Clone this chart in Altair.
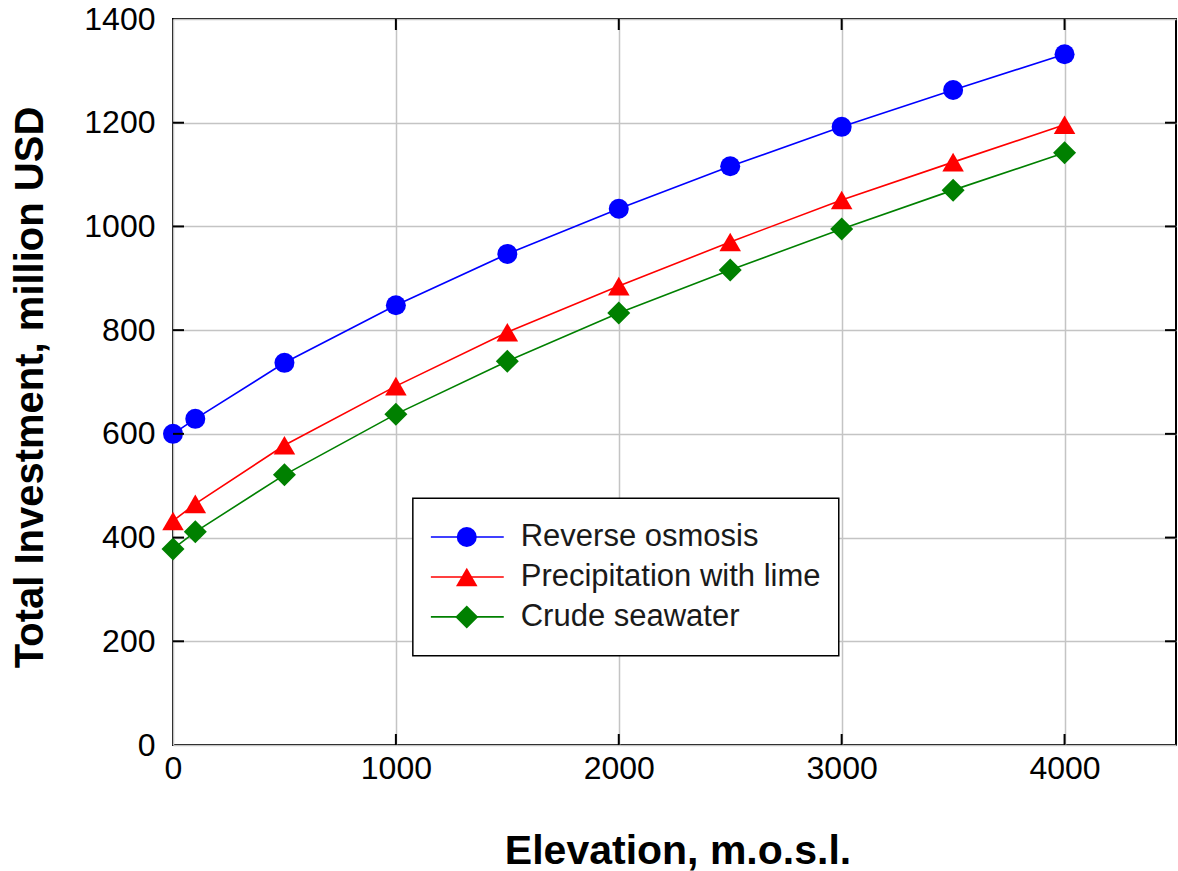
import altair as alt
import pandas as pd

elevation = [0, 100, 500, 1000, 1500, 2000, 2500, 3000, 3500, 4000]
reverse_osmosis = [600, 629, 737, 848, 947, 1034, 1116, 1192, 1263, 1332]
precip_lime = [432, 465, 578, 692, 796, 885, 970, 1051, 1124, 1196]
crude_seawater = [378, 411, 521, 638, 740, 833, 916, 995, 1070, 1142]

series_names = ["Reverse osmosis", "Precipitation with lime", "Crude seawater"]
series_colors = ["#0000ff", "#ff0000", "#008000"]
series_shapes = ["circle", "triangle-up", "diamond"]
series_sizes = [400, 529, 600]

x_ticks = [0, 1000, 2000, 3000, 4000]
y_ticks = [0, 200, 400, 600, 800, 1000, 1200, 1400]

rows = []
for name, vals in zip(series_names, [reverse_osmosis, precip_lime, crude_seawater]):
    for e, v in zip(elevation, vals):
        rows.append({"series": name, "elev": e, "inv": v})
df = pd.DataFrame(rows)

W, H = 1003, 726
FONT = "Liberation Sans"

xs = alt.Scale(domain=[0, 4500], nice=False)
ys = alt.Scale(domain=[0, 1400], nice=False)

xax = alt.Axis(values=x_ticks, format="d", title="Elevation, m.o.s.l.", labelFontSize=32, labelFont=FONT,
               labelColor="black", labelPadding=8, labelFlush=False, tickSize=0, domain=False,
               gridColor="#c4c4c4", gridWidth=1.5, titleFont=FONT, titleFontSize=41,
               titleFontWeight="bold", titleColor="black", titleX=W / 2 + 3, titleY=106,
               titleBaseline="middle", titleAlign="center")
yax = alt.Axis(values=y_ticks, format="d", title="Total Investment, million USD", labelFontSize=32, labelFont=FONT,
               labelColor="black", labelPadding=18, labelFlush=False, tickSize=0, domain=False,
               gridColor="#c4c4c4", gridWidth=1.5, titleFont=FONT, titleFontSize=40,
               titleFontWeight="bold", titleColor="black", titleX=-143, titleY=H / 2 + 5,
               titleAngle=270, titleBaseline="middle", titleAlign="center")

color = alt.Color("series:N", scale=alt.Scale(domain=series_names, range=series_colors), legend=None)
shape = alt.Shape("series:N", scale=alt.Scale(domain=series_names, range=series_shapes), legend=None)
size = alt.Size("series:N", scale=alt.Scale(domain=series_names, range=series_sizes), legend=None)

base = alt.Chart(df)
lines = base.mark_line(strokeWidth=1.6).encode(
    x=alt.X("elev:Q", scale=xs, axis=xax),
    y=alt.Y("inv:Q", scale=ys, axis=yax),
    color=color,
)
points = base.mark_point(filled=True, opacity=1, strokeWidth=0).encode(
    x=alt.X("elev:Q", scale=xs), y=alt.Y("inv:Q", scale=ys), color=color, shape=shape, size=size,
)

# inner tick marks on all four sides
xt = pd.DataFrame({"v": [1000, 2000, 3000, 4000]})
yt = pd.DataFrame({"v": [200, 400, 600, 800, 1000, 1200]})
tick_style = dict(color="black", strokeWidth=2)
t_bottom = alt.Chart(xt).mark_rule(**tick_style).encode(x=alt.X("v:Q", scale=xs), y=alt.value(H), y2=alt.value(H - 11))
t_top = alt.Chart(xt).mark_rule(**tick_style).encode(x=alt.X("v:Q", scale=xs), y=alt.value(0), y2=alt.value(11))
t_left = alt.Chart(yt).mark_rule(**tick_style).encode(y=alt.Y("v:Q", scale=ys), x=alt.value(0), x2=alt.value(11))
t_right = alt.Chart(yt).mark_rule(**tick_style).encode(y=alt.Y("v:Q", scale=ys), x=alt.value(W), x2=alt.value(W - 11))

# custom legend (in data coordinates)
leg_box = pd.DataFrame({"x1": [1076], "x2": [2987], "y1": [172], "y2": [476]})
leg_rows = pd.DataFrame({
    "series": series_names,
    "lx1": [1157] * 3, "lx2": [1484] * 3, "mx": [1318] * 3, "tx": [1560] * 3,
    "ly": [401, 324, 247],
})
box = alt.Chart(leg_box).mark_rect(fill="white", stroke="black", strokeWidth=1.5).encode(
    x=alt.X("x1:Q", scale=xs), x2="x2:Q", y=alt.Y("y1:Q", scale=ys), y2="y2:Q")
leg_lines = alt.Chart(leg_rows).mark_rule(strokeWidth=1.6).encode(
    x=alt.X("lx1:Q", scale=xs), x2="lx2:Q", y=alt.Y("ly:Q", scale=ys), color=color)
leg_pts = alt.Chart(leg_rows).mark_point(filled=True, opacity=1, strokeWidth=0).encode(
    x=alt.X("mx:Q", scale=xs), y=alt.Y("ly:Q", scale=ys), color=color, shape=shape, size=size)
leg_txt = alt.Chart(leg_rows).mark_text(align="left", baseline="middle", font=FONT, fontSize=31,
                                        color="#1a1a1a").encode(
    x=alt.X("tx:Q", scale=xs), y=alt.Y("ly:Q", scale=ys), text="series:N")

chart = alt.layer(lines, points, t_bottom, t_top, t_left, t_right, box, leg_lines, leg_pts, leg_txt).properties(
    width=W, height=H,
    autosize=alt.AutoSizeParams(type="none"),
    padding={"left": 173, "top": 19, "right": 2, "bottom": 126},
    background="white",
).configure_view(stroke="black", strokeWidth=2).resolve_scale(color="shared", shape="shared", size="shared")

chart.save("out.html", embed_options={"renderer": "svg", "actions": False})
